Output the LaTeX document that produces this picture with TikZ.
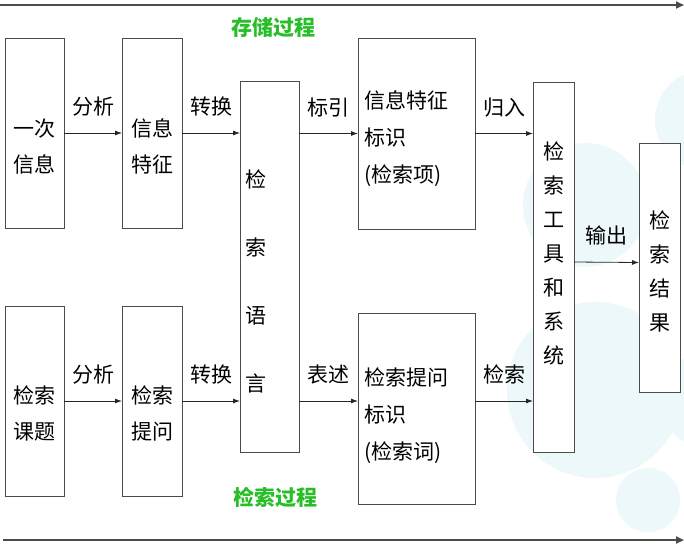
\documentclass[tikz,border=0pt]{standalone}
\usepackage{fontspec}
\setmainfont{Noto Sans CJK SC}
\usetikzlibrary{arrows.meta,positioning}
\definecolor{bubbleCyan}{RGB}{236,248,250}
\definecolor{flowGreen}{RGB}{40,190,40}
\definecolor{lineGray}{RGB}{75,75,75}
\tikzset{
    flowBox/.style={
        draw=lineGray,
        line width=1pt,
        fill=white,
        align=center,
        inner sep=0pt,
        outer sep=0pt,
        font=\fontsize{21}{36}\selectfont
    },
    textDown/.style={
        execute at begin node={\rule{0pt}{#1}}
    },
    textUp/.style={
        execute at end node={\rule[-#1]{0pt}{0pt}}
    },
    flowArrow/.style={
        -{Latex[length=7pt,width=5pt]},
        line width=0.8pt,
        draw=black!85
    },
    flowLabel/.style={
        font=\fontsize{21}{25}\selectfont,
        above=13pt
    },
    processLine/.style={
        -{Triangle[length=8pt,width=7pt]},
        line width=2pt,
        draw=lineGray
    },
    processTitle/.style={
        text=flowGreen,
        font=\fontsize{21}{25}\selectfont\bfseries
    },
    bubble/.style={
        fill=bubbleCyan,
        draw=none
    }
}
\begin{document}
\begin{tikzpicture}[x=1pt,y=-1pt]
        \useasboundingbox (0,0) rectangle (684,549);

        % pale bubbles behind the right part
        \fill[bubble] (585,205) circle (62);
        \fill[bubble] (595,390) circle (88);
        \fill[bubble] (705,120) circle (50);
        \fill[bubble] (708,400) circle (48);
        \fill[bubble] (648,500) circle (32);

        % process arrows
        \coordinate (storeStart) at (0,5);
        \coordinate (storeEnd) at (684,5);
        \coordinate (searchStart) at (3,540);
        \coordinate (searchEnd) at (684,540);
        \draw[processLine] (storeStart) -- (storeEnd);
        \draw[processLine] (searchStart) -- (searchEnd);
        \node[processTitle] (storeTitle) at (273,27) {存储过程};
        \node[processTitle] (searchTitle) at (275,497) {检索过程};

        % storage row
        \node[flowBox,textDown=44pt,text width=59pt,minimum width=59pt,minimum height=190pt] (yici) at (34.5,133) {一次\\信息};
        \node[flowBox,textDown=44pt,text width=60pt,minimum width=60pt,minimum height=190pt] (feature) at (152,133) {信息\\特征};
        \node[flowBox,textDown=48pt,minimum width=59pt,minimum height=371pt,text width=49pt,align=left,
              font=\fontsize{21}{68}\selectfont] (language) at (269.5,266.5) {检\\索\\语\\言};
        \node[flowBox,textDown=28pt,minimum width=117pt,minimum height=191pt,text width=105pt,align=left,
              font=\fontsize{21}{37}\selectfont] (featureId) at (416.5,133.5) {信息特征\\标识\\(检索项)};
        \node[flowBox,textUp=28pt,minimum width=41pt,minimum height=370pt,
              font=\fontsize{21}{34}\selectfont] (tools) at (553.5,267) {检\\索\\工\\具\\和\\系\\统};
        \node[flowBox,textDown=26pt,text width=41pt,minimum width=41pt,minimum height=249pt,
              font=\fontsize{21}{34}\selectfont] (result) at (659.5,267.5) {检\\索\\结\\果};

        % search row
        \node[flowBox,textDown=43pt,text width=59pt,minimum width=59pt,minimum height=190pt] (topic) at (34.5,401) {检索\\课题};
        \node[flowBox,textDown=43pt,text width=60pt,minimum width=60pt,minimum height=190pt] (query) at (152,401) {检索\\提问};
        \node[flowBox,textDown=33pt,minimum width=117pt,minimum height=191pt,text width=105pt,align=left,
              font=\fontsize{21}{37}\selectfont] (queryId) at (416.5,408.5) {检索提问\\标识\\(检索词)};

        \draw[flowArrow] (yici) -- (feature) node[midway,flowLabel] {分析};
        \draw[flowArrow] (feature) -- (feature -| language.west) node[midway,flowLabel] {转换};
        \draw[flowArrow] (language.east |- featureId) -- (featureId) node[midway,flowLabel] {标引};
        \draw[flowArrow] (featureId) -- (featureId -| tools.west) node[midway,flowLabel] {归入};
        \draw[flowArrow] ([yshift=5pt]tools.east) -- ([yshift=5pt]result.west) node[midway,flowLabel] {输出};

        \draw[flowArrow] (topic) -- (query) node[midway,flowLabel] {分析};
        \draw[flowArrow] (query) -- (query -| language.west) node[midway,flowLabel] {转换};
        \draw[flowArrow] (language.east |- query) -- (query -| queryId.west) node[midway,flowLabel] {表述};
        \draw[flowArrow] (queryId.east |- query) -- (query -| tools.west) node[midway,flowLabel] {检索};
    \end{tikzpicture}
\end{document}
